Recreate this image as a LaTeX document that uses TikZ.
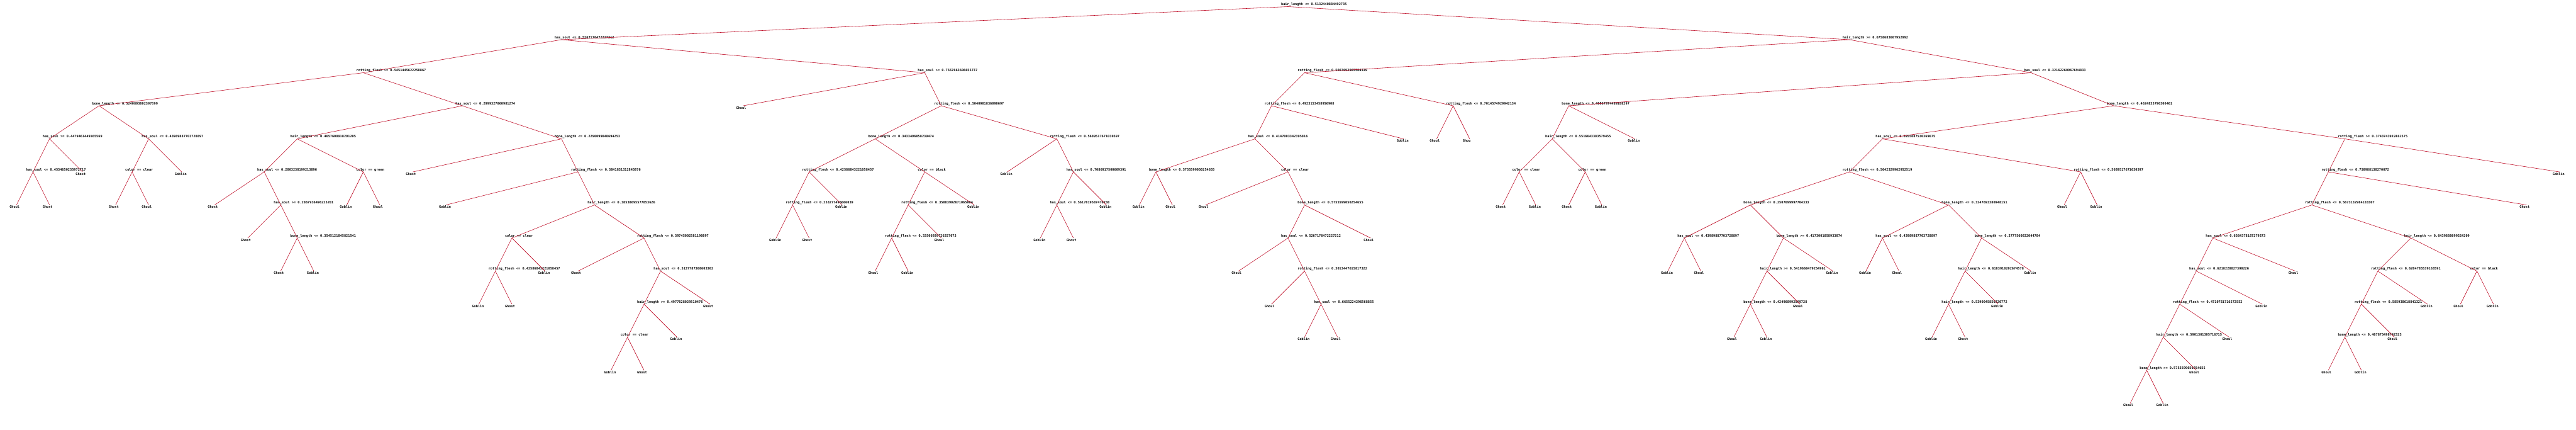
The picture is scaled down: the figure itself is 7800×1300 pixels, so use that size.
\documentclass[tikz,border=0pt]{standalone}
\usepackage{fontspec}
\setmonofont{DejaVu Sans Mono}
\usepackage{tikz}
\definecolor{edgered}{RGB}{190,10,36}

\begin{document}
\begin{tikzpicture}[x=1pt, y=-1pt,
    tree text/.style={inner sep=0pt, text height=8pt, text depth=2.5pt, font=\ttfamily\bfseries\fontsize{10}{10}\selectfont, xshift=-21pt},
    split/.style={inner sep=0pt, outer sep=0pt, minimum size=0pt, label={[tree text, yshift=0.5pt]above right:#1}},
    leaf/.style={inner sep=0pt, outer sep=0pt, minimum size=0pt, label={[tree text, yshift=-1.5pt]below right:#1}},
    branch/.style={draw=edgered, line width=1.1pt}
]

\fill[white] (0,0) rectangle (7800,1300);

\node[split={hair\_length <= 0.5132440884492735}] (s1) at (3900,20) {};
\node[split={has\_soul <= 0.5267176472227212}] (s2) at (1700,120) {};
\node[split={rotting\_flesh >= 0.5451445622258867}] (s3) at (1100,220) {};
\node[split={bone\_length <= 0.5240803802397399}] (s4) at (300,320) {};
\node[split={has\_soul >= 0.4479461449165569}] (s5) at (150,420) {};
\node[split={has\_soul <= 0.4534650235972717}] (s6) at (100,520) {};
\node[split={has\_soul <= 0.43989887703728897}] (s7) at (450,420) {};
\node[split={color == clear}] (s8) at (400,520) {};
\node[split={has\_soul <= 0.2999327060981274}] (s9) at (1400,320) {};
\node[split={hair\_length <= 0.4657608918291205}] (s10) at (900,420) {};
\node[split={has\_soul <= 0.2803238199213896}] (s11) at (800,520) {};
\node[split={has\_soul >= 0.2867936496225201}] (s12) at (850,620) {};
\node[split={bone\_length <= 0.3545121845821541}] (s13) at (900,720) {};
\node[split={color == green}] (s14) at (1100,520) {};
\node[split={bone\_length <= 0.2290099048694253}] (s15) at (1700,420) {};
\node[split={rotting\_flesh <= 0.3841831312845876}] (s16) at (1750,520) {};
\node[split={hair\_length <= 0.38538695577853626}] (s17) at (1800,620) {};
\node[split={color == clear}] (s18) at (1550,720) {};
\node[split={rotting\_flesh <= 0.42586843221058457}] (s19) at (1500,820) {};
\node[split={rotting\_flesh <= 0.39745002581190897}] (s20) at (1950,720) {};
\node[split={has\_soul <= 0.5137787308603302}] (s21) at (2000,820) {};
\node[split={hair\_length >= 0.4977828029510476}] (s22) at (1950,920) {};
\node[split={color == clear}] (s23) at (1900,1020) {};
\node[split={has\_soul >= 0.7567663606655737}] (s24) at (2800,220) {};
\node[split={rotting\_flesh <= 0.5040901836090697}] (s25) at (2850,320) {};
\node[split={bone\_length <= 0.3433496058239474}] (s26) at (2650,420) {};
\node[split={rotting\_flesh <= 0.42586843221058457}] (s27) at (2450,520) {};
\node[split={rotting\_flesh <= 0.253277496666039}] (s28) at (2400,620) {};
\node[split={color == black}] (s29) at (2800,520) {};
\node[split={rotting\_flesh <= 0.35083902671065004}] (s30) at (2750,620) {};
\node[split={rotting\_flesh <= 0.33506939726257073}] (s31) at (2700,720) {};
\node[split={rotting\_flesh <= 0.5689517671030597}] (s32) at (3200,420) {};
\node[split={has\_soul <= 0.7086917500609391}] (s33) at (3250,520) {};
\node[split={has\_soul <= 0.5617819587476738}] (s34) at (3200,620) {};
\node[split={hair\_length >= 0.6758683607952992}] (s35) at (5600,120) {};
\node[split={rotting\_flesh <= 0.5007692965584339}] (s36) at (3950,220) {};
\node[split={rotting\_flesh <= 0.4923153458956908}] (s37) at (3850,320) {};
\node[split={has\_soul <= 0.4147003342395816}] (s38) at (3800,420) {};
\node[split={bone\_length <= 0.5755599050254655}] (s39) at (3500,520) {};
\node[split={color == clear}] (s40) at (3900,520) {};
\node[split={bone\_length <= 0.5755599050254655}] (s41) at (3950,620) {};
\node[split={has\_soul <= 0.5267176472227212}] (s42) at (3900,720) {};
\node[split={rotting\_flesh <= 0.3013447615817322}] (s43) at (3950,820) {};
\node[split={has\_soul <= 0.6655224296568855}] (s44) at (4000,920) {};
\node[split={rotting\_flesh <= 0.7014574929942134}] (s45) at (4400,320) {};
\node[split={has\_soul <= 0.32162260967694833}] (s46) at (6150,220) {};
\node[split={bone\_length <= 0.40567974489188297}] (s47) at (4750,320) {};
\node[split={hair\_length <= 0.5516643383579455}] (s48) at (4700,420) {};
\node[split={color == clear}] (s49) at (4600,520) {};
\node[split={color == green}] (s50) at (4800,520) {};
\node[split={bone\_length <= 0.4624835790300461}] (s51) at (6400,320) {};
\node[split={has\_soul <= 0.6955887530369675}] (s52) at (5700,420) {};
\node[split={rotting\_flesh <= 0.5642329962952519}] (s53) at (5600,520) {};
\node[split={bone\_length <= 0.2507699997704333}] (s54) at (5300,620) {};
\node[split={has\_soul <= 0.43989887703728897}] (s55) at (5100,720) {};
\node[split={bone\_length >= 0.4173001058933074}] (s56) at (5400,720) {};
\node[split={hair\_length >= 0.5419660479254961}] (s57) at (5350,820) {};
\node[split={bone\_length <= 0.424968992569728}] (s58) at (5300,920) {};
\node[split={bone\_length <= 0.3247693380948151}] (s59) at (5900,620) {};
\node[split={has\_soul <= 0.43989887703728897}] (s60) at (5700,720) {};
\node[split={bone\_length <= 0.3777560832044784}] (s61) at (6000,720) {};
\node[split={hair\_length <= 0.6183910202674578}] (s62) at (5950,820) {};
\node[split={hair\_length <= 0.5390045850320772}] (s63) at (5900,920) {};
\node[split={rotting\_flesh <= 0.5689517671030597}] (s64) at (6300,520) {};
\node[split={rotting\_flesh >= 0.3743743919162575}] (s65) at (7100,420) {};
\node[split={rotting\_flesh <= 0.750988138270072}] (s66) at (7050,520) {};
\node[split={rotting\_flesh <= 0.5673132984183307}] (s67) at (7000,620) {};
\node[split={has\_soul <= 0.6364378187279373}] (s68) at (6700,720) {};
\node[split={has\_soul <= 0.6218228827390226}] (s69) at (6650,820) {};
\node[split={rotting\_flesh <= 0.4710781716572552}] (s70) at (6600,920) {};
\node[split={hair\_length <= 0.5901301305716715}] (s71) at (6550,1020) {};
\node[split={bone\_length >= 0.5755599050254655}] (s72) at (6500,1120) {};
\node[split={hair\_length <= 0.6439888699324209}] (s73) at (7300,720) {};
\node[split={rotting\_flesh <= 0.6204785539163591}] (s74) at (7200,820) {};
\node[split={rotting\_flesh <= 0.585938618841321}] (s75) at (7150,920) {};
\node[split={bone\_length <= 0.467875498742323}] (s76) at (7100,1020) {};
\node[split={color == black}] (s77) at (7500,820) {};

\node[leaf=Ghoul] (c01) at (50,620) {};
\node[leaf=Ghost] (c02) at (150,620) {};
\node[leaf=Ghost] (c03) at (250,520) {};
\node[leaf=Ghost] (c04) at (350,620) {};
\node[leaf=Ghoul] (c05) at (450,620) {};
\node[leaf=Goblin] (c06) at (550,520) {};
\node[leaf=Ghost] (c07) at (650,620) {};
\node[leaf=Ghost] (c08) at (750,720) {};
\node[leaf=Ghost] (c09) at (850,820) {};
\node[leaf=Goblin] (c10) at (950,820) {};
\node[leaf=Goblin] (c11) at (1050,620) {};
\node[leaf=Ghoul] (c12) at (1150,620) {};
\node[leaf=Ghost] (c13) at (1250,520) {};
\node[leaf=Goblin] (c14) at (1350,620) {};
\node[leaf=Goblin] (c15) at (1450,920) {};
\node[leaf=Ghost] (c16) at (1550,920) {};
\node[leaf=Goblin] (c17) at (1650,820) {};
\node[leaf=Ghost] (c18) at (1750,820) {};
\node[leaf=Goblin] (c19) at (1850,1120) {};
\node[leaf=Ghost] (c20) at (1950,1120) {};
\node[leaf=Goblin] (c21) at (2050,1020) {};
\node[leaf=Ghost] (c22) at (2150,920) {};
\node[leaf=Ghoul] (c23) at (2250,320) {};
\node[leaf=Goblin] (c24) at (2350,720) {};
\node[leaf=Ghost] (c25) at (2450,720) {};
\node[leaf=Goblin] (c26) at (2550,620) {};
\node[leaf=Ghoul] (c27) at (2650,820) {};
\node[leaf=Goblin] (c28) at (2750,820) {};
\node[leaf=Ghoul] (c29) at (2850,720) {};
\node[leaf=Goblin] (c30) at (2950,620) {};
\node[leaf=Goblin] (c31) at (3050,520) {};
\node[leaf=Goblin] (c32) at (3150,720) {};
\node[leaf=Ghost] (c33) at (3250,720) {};
\node[leaf=Goblin] (c34) at (3350,620) {};
\node[leaf=Goblin] (c35) at (3450,620) {};
\node[leaf=Ghoul] (c36) at (3550,620) {};
\node[leaf=Ghoul] (c37) at (3650,620) {};
\node[leaf=Ghoul] (c38) at (3750,820) {};
\node[leaf=Ghoul] (c39) at (3850,920) {};
\node[leaf=Goblin] (c40) at (3950,1020) {};
\node[leaf=Ghoul] (c41) at (4050,1020) {};
\node[leaf=Ghoul] (c42) at (4150,720) {};
\node[leaf=Goblin] (c43) at (4250,420) {};
\node[leaf=Ghoul] (c44) at (4350,420) {};
\node[leaf=Ghou] (c45) at (4450,420) {};
\node[leaf=Ghost] (c46) at (4550,620) {};
\node[leaf=Goblin] (c47) at (4650,620) {};
\node[leaf=Ghost] (c48) at (4750,620) {};
\node[leaf=Goblin] (c49) at (4850,620) {};
\node[leaf=Goblin] (c50) at (4950,420) {};
\node[leaf=Goblin] (c51) at (5050,820) {};
\node[leaf=Ghoul] (c52) at (5150,820) {};
\node[leaf=Ghoul] (c53) at (5250,1020) {};
\node[leaf=Goblin] (c54) at (5350,1020) {};
\node[leaf=Ghoul] (c55) at (5450,920) {};
\node[leaf=Goblin] (c56) at (5550,820) {};
\node[leaf=Goblin] (c57) at (5650,820) {};
\node[leaf=Ghoul] (c58) at (5750,820) {};
\node[leaf=Goblin] (c59) at (5850,1020) {};
\node[leaf=Ghost] (c60) at (5950,1020) {};
\node[leaf=Goblin] (c61) at (6050,920) {};
\node[leaf=Goblin] (c62) at (6150,820) {};
\node[leaf=Ghoul] (c63) at (6250,620) {};
\node[leaf=Goblin] (c64) at (6350,620) {};
\node[leaf=Ghoul] (c65) at (6450,1220) {};
\node[leaf=Goblin] (c66) at (6550,1220) {};
\node[leaf=Ghoul] (c67) at (6650,1120) {};
\node[leaf=Ghoul] (c68) at (6750,1020) {};
\node[leaf=Goblin] (c69) at (6850,920) {};
\node[leaf=Ghoul] (c70) at (6950,820) {};
\node[leaf=Ghoul] (c71) at (7050,1120) {};
\node[leaf=Goblin] (c72) at (7150,1120) {};
\node[leaf=Ghoul] (c73) at (7250,1020) {};
\node[leaf=Goblin] (c74) at (7350,920) {};
\node[leaf=Ghoul] (c75) at (7450,920) {};
\node[leaf=Goblin] (c76) at (7550,920) {};
\node[leaf=Ghost] (c77) at (7650,620) {};
\node[leaf=Goblin] (c78) at (7750,520) {};

\draw[branch] (s1) -- (s2);
\draw[branch] (s1) -- (s35);
\draw[branch] (s2) -- (s3);
\draw[branch] (s2) -- (s24);
\draw[branch] (s3) -- (s4);
\draw[branch] (s3) -- (s9);
\draw[branch] (s4) -- (s5);
\draw[branch] (s4) -- (s7);
\draw[branch] (s5) -- (s6);
\draw[branch] (s5) -- (c03);
\draw[branch] (s6) -- (c01);
\draw[branch] (s6) -- (c02);
\draw[branch] (s7) -- (s8);
\draw[branch] (s7) -- (c06);
\draw[branch] (s8) -- (c04);
\draw[branch] (s8) -- (c05);
\draw[branch] (s9) -- (s10);
\draw[branch] (s9) -- (s15);
\draw[branch] (s10) -- (s11);
\draw[branch] (s10) -- (s14);
\draw[branch] (s11) -- (c07);
\draw[branch] (s11) -- (s12);
\draw[branch] (s12) -- (c08);
\draw[branch] (s12) -- (s13);
\draw[branch] (s13) -- (c09);
\draw[branch] (s13) -- (c10);
\draw[branch] (s14) -- (c11);
\draw[branch] (s14) -- (c12);
\draw[branch] (s15) -- (c13);
\draw[branch] (s15) -- (s16);
\draw[branch] (s16) -- (c14);
\draw[branch] (s16) -- (s17);
\draw[branch] (s17) -- (s18);
\draw[branch] (s17) -- (s20);
\draw[branch] (s18) -- (s19);
\draw[branch] (s18) -- (c17);
\draw[branch] (s19) -- (c15);
\draw[branch] (s19) -- (c16);
\draw[branch] (s20) -- (c18);
\draw[branch] (s20) -- (s21);
\draw[branch] (s21) -- (s22);
\draw[branch] (s21) -- (c22);
\draw[branch] (s22) -- (s23);
\draw[branch] (s22) -- (c21);
\draw[branch] (s23) -- (c19);
\draw[branch] (s23) -- (c20);
\draw[branch] (s24) -- (c23);
\draw[branch] (s24) -- (s25);
\draw[branch] (s25) -- (s26);
\draw[branch] (s25) -- (s32);
\draw[branch] (s26) -- (s27);
\draw[branch] (s26) -- (s29);
\draw[branch] (s27) -- (s28);
\draw[branch] (s27) -- (c26);
\draw[branch] (s28) -- (c24);
\draw[branch] (s28) -- (c25);
\draw[branch] (s29) -- (s30);
\draw[branch] (s29) -- (c30);
\draw[branch] (s30) -- (s31);
\draw[branch] (s30) -- (c29);
\draw[branch] (s31) -- (c27);
\draw[branch] (s31) -- (c28);
\draw[branch] (s32) -- (c31);
\draw[branch] (s32) -- (s33);
\draw[branch] (s33) -- (s34);
\draw[branch] (s33) -- (c34);
\draw[branch] (s34) -- (c32);
\draw[branch] (s34) -- (c33);
\draw[branch] (s35) -- (s36);
\draw[branch] (s35) -- (s46);
\draw[branch] (s36) -- (s37);
\draw[branch] (s36) -- (s45);
\draw[branch] (s37) -- (s38);
\draw[branch] (s37) -- (c43);
\draw[branch] (s38) -- (s39);
\draw[branch] (s38) -- (s40);
\draw[branch] (s39) -- (c35);
\draw[branch] (s39) -- (c36);
\draw[branch] (s40) -- (c37);
\draw[branch] (s40) -- (s41);
\draw[branch] (s41) -- (s42);
\draw[branch] (s41) -- (c42);
\draw[branch] (s42) -- (c38);
\draw[branch] (s42) -- (s43);
\draw[branch] (s43) -- (c39);
\draw[branch] (s43) -- (s44);
\draw[branch] (s44) -- (c40);
\draw[branch] (s44) -- (c41);
\draw[branch] (s45) -- (c44);
\draw[branch] (s45) -- (c45);
\draw[branch] (s46) -- (s47);
\draw[branch] (s46) -- (s51);
\draw[branch] (s47) -- (s48);
\draw[branch] (s47) -- (c50);
\draw[branch] (s48) -- (s49);
\draw[branch] (s48) -- (s50);
\draw[branch] (s49) -- (c46);
\draw[branch] (s49) -- (c47);
\draw[branch] (s50) -- (c48);
\draw[branch] (s50) -- (c49);
\draw[branch] (s51) -- (s52);
\draw[branch] (s51) -- (s65);
\draw[branch] (s52) -- (s53);
\draw[branch] (s52) -- (s64);
\draw[branch] (s53) -- (s54);
\draw[branch] (s53) -- (s59);
\draw[branch] (s54) -- (s55);
\draw[branch] (s54) -- (s56);
\draw[branch] (s55) -- (c51);
\draw[branch] (s55) -- (c52);
\draw[branch] (s56) -- (s57);
\draw[branch] (s56) -- (c56);
\draw[branch] (s57) -- (s58);
\draw[branch] (s57) -- (c55);
\draw[branch] (s58) -- (c53);
\draw[branch] (s58) -- (c54);
\draw[branch] (s59) -- (s60);
\draw[branch] (s59) -- (s61);
\draw[branch] (s60) -- (c57);
\draw[branch] (s60) -- (c58);
\draw[branch] (s61) -- (s62);
\draw[branch] (s61) -- (c62);
\draw[branch] (s62) -- (s63);
\draw[branch] (s62) -- (c61);
\draw[branch] (s63) -- (c59);
\draw[branch] (s63) -- (c60);
\draw[branch] (s64) -- (c63);
\draw[branch] (s64) -- (c64);
\draw[branch] (s65) -- (s66);
\draw[branch] (s65) -- (c78);
\draw[branch] (s66) -- (s67);
\draw[branch] (s66) -- (c77);
\draw[branch] (s67) -- (s68);
\draw[branch] (s67) -- (s73);
\draw[branch] (s68) -- (s69);
\draw[branch] (s68) -- (c70);
\draw[branch] (s69) -- (s70);
\draw[branch] (s69) -- (c69);
\draw[branch] (s70) -- (s71);
\draw[branch] (s70) -- (c68);
\draw[branch] (s71) -- (s72);
\draw[branch] (s71) -- (c67);
\draw[branch] (s72) -- (c65);
\draw[branch] (s72) -- (c66);
\draw[branch] (s73) -- (s74);
\draw[branch] (s73) -- (s77);
\draw[branch] (s74) -- (s75);
\draw[branch] (s74) -- (c74);
\draw[branch] (s75) -- (s76);
\draw[branch] (s75) -- (c73);
\draw[branch] (s76) -- (c71);
\draw[branch] (s76) -- (c72);
\draw[branch] (s77) -- (c75);
\draw[branch] (s77) -- (c76);

\end{tikzpicture}
\end{document}
